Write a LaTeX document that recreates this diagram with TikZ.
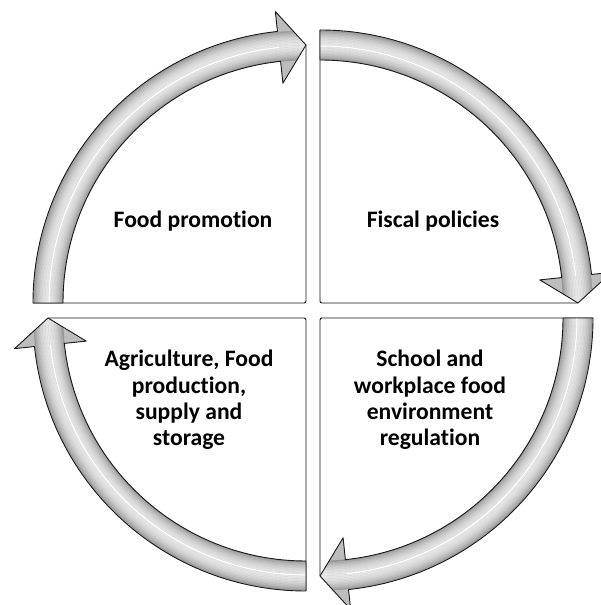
\documentclass[tikz,border=0pt]{standalone}
\usepackage{fontspec}
\setmainfont{Carlito}[Ligatures=CommonOff]
\tikzset{
  outline/.style={draw=black!90, line width=0.9pt, line join=round},
  quadline/.style={draw=black!90, line width=0.9pt, rounded corners=2pt},
  qtext/.style={font=\bfseries\fontsize{23.6}{26.4}\selectfont, align=center, text=black, inner sep=0pt},
}
\newcommand\quadrant[4]{%
 \begin{scope}[shift={(#1,#2)}]
   \pgfmathsetmacro\qa{#3}
   \pgfmathsetmacro\qb{#3-90}
   \pgfmathsetmacro\qh{#3-84}
   \coordinate (#4-c) at (0,0);
   \coordinate (#4-s) at (\qa:273pt);
   \coordinate (#4-t) at (\qb:258pt);
   \draw[quadline] (#4-s) -- (#4-c) -- (#4-t);
   \def\apath{(\qa:273pt) arc[start angle=\qa, end angle=\qh, radius=273pt] -- (\qh:293pt) -- (\qb:258pt) -- (\qh:221pt) -- (\qh:243pt) arc[start angle=\qh, end angle=\qa, radius=243pt] -- cycle}
   \begin{scope}
     \clip \apath;
     \fill[black!30] \apath;
     \foreach \r in {221,222.5,...,294} {
       \pgfmathsetmacro\bb{ifthenelse(and(\r>=243,\r<=273), 0.56+0.34*max(0.01,sin(180*(273-\r)/30))^0.8, 0.74)}
       \definecolor{shc}{gray}{\bb}
       \draw[shc, line width=1.7pt] (\qa:\r pt) arc[start angle=\qa, end angle=\qb, radius=\r pt];
     }
     \draw[white, line width=1pt] (\qa:257pt) arc[start angle=\qa, end angle=\qh, radius=257pt];
   \end{scope}
   \draw[outline] \apath;
 \end{scope}}
\begin{document}
\begin{tikzpicture}[x=1pt,y=1pt]
\useasboundingbox (0,0) rectangle (601,605);
\fill[white] (0,0) rectangle (601,605);
\clip (0,0) rectangle (601,605);
\quadrant{306}{302}{180}{tl}
\quadrant{320}{302}{90}{tr}
\quadrant{320}{287}{0}{br}
\quadrant{306}{287}{-90}{bl}
\node[qtext, anchor=base] (fp) at (193,377) {Food promotion};
\node[qtext, anchor=base] (fi) at (433,377) {Fiscal policies};
\node[qtext] (ag) at (189,205) {Agriculture, Food\\production,\\supply and\\storage};
\node[qtext] (sc) at (430,205) {School and\\workplace food\\environment\\regulation};
\end{tikzpicture}
\end{document}
